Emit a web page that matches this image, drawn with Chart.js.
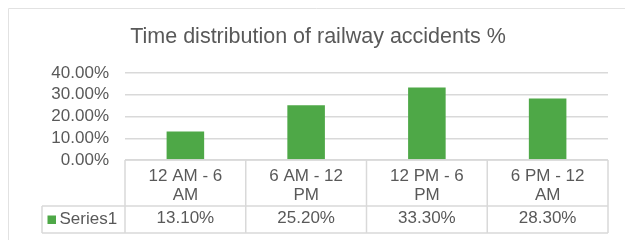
<!DOCTYPE html>
<html>
<head>
<meta charset="utf-8">
<script src="https://cdn.jsdelivr.net/npm/chart.js"></script>
<style>
  html, body { margin: 0; padding: 0; background: #fff; }
  #wrap { width: 625px; height: 240px; position: relative; }
</style>
</head>
<body>
<div id="wrap"><canvas id="chart"></canvas></div>
<script>
const categories = ['12 AM - 6 AM', '6 AM - 12 PM', '12 PM - 6 PM', '6 PM - 12 AM'];
const seriesName = 'Series1';
const seriesValues = [13.1, 25.2, 33.3, 28.3];
const yTicks = [0, 10, 20, 30, 40];

const textColor = '#595959';
const lineColor = '#d9d9d9';
const barColor = '#4ea847';
const fontFamily = '"Liberation Sans", Arial, sans-serif';

// Excel wraps each label before its last word
function wrapLabel(label) {
    const i = label.lastIndexOf(' ');
    return [label.slice(0, i), label.slice(i + 1)];
}

// Outer frame plus the data table under the plot
const dataTable = {
    id: 'dataTable',
    beforeDraw(chart) {
        const { ctx, width, height } = chart;
        ctx.save();
        ctx.strokeStyle = '#e2e2e2';
        ctx.lineWidth = 1;
        ctx.beginPath();
        ctx.moveTo(8.5, height);
        ctx.lineTo(8.5, 8.5);
        ctx.lineTo(width, 8.5);
        ctx.stroke();
        ctx.restore();
    },
    afterDraw(chart) {
        const { ctx, chartArea } = chart;
        const x = chart.scales.x;
        const colW = x.getPixelForValue(1) - x.getPixelForValue(0);
        const top = chartArea.bottom;
        const rowY = top + 46;
        const bottom = top + 73;
        const keyLeft = 42;
        const left = chartArea.left;
        const right = chartArea.right;

        ctx.save();
        ctx.strokeStyle = lineColor;
        ctx.lineWidth = 1.5;
        ctx.beginPath();
        ctx.moveTo(left, top); ctx.lineTo(right, top);
        ctx.moveTo(keyLeft, rowY); ctx.lineTo(right, rowY);
        ctx.moveTo(keyLeft, bottom); ctx.lineTo(right, bottom);
        ctx.moveTo(keyLeft, rowY); ctx.lineTo(keyLeft, bottom);
        categories.forEach((c, i) => {
            const edge = x.getPixelForValue(i) - colW / 2;
            ctx.moveTo(edge, top); ctx.lineTo(edge, bottom);
        });
        ctx.moveTo(right, top); ctx.lineTo(right, bottom);
        ctx.stroke();

        const midY = (rowY + bottom) / 2;
        ctx.fillStyle = barColor;
        ctx.fillRect(keyLeft + 5.5, midY - 4, 8.5, 8.5);
        ctx.font = '17px ' + fontFamily;
        ctx.fillStyle = textColor;
        ctx.textBaseline = 'middle';
        ctx.textAlign = 'left';
        ctx.fillText(seriesName, keyLeft + 17.5, midY);
        ctx.textAlign = 'center';
        seriesValues.forEach((v, i) => {
            ctx.fillText(v.toFixed(2) + '%', x.getPixelForValue(i), midY - 1);
        });
        ctx.restore();
    }
};

document.addEventListener('DOMContentLoaded', function () {
    const ctx = document.getElementById('chart').getContext('2d');
    new Chart(ctx, {
        type: 'bar',
        data: {
            labels: categories,
            datasets: [{
                label: seriesName,
                data: seriesValues,
                backgroundColor: barColor,
                categoryPercentage: 1,
                barPercentage: 0.311
            }]
        },
        options: {
            responsive: true,
            maintainAspectRatio: false,
            animation: false,
            layout: {
                padding: { top: 0, left: 28, right: 17, bottom: 0 }
            },
            scales: {
                x: {
                    grid: { display: false, drawTicks: false },
                    border: { display: false },
                    ticks: {
                        autoSkip: false,
                        maxRotation: 0,
                        padding: 7,
                        color: textColor,
                        font: { family: fontFamily, size: 17, lineHeight: 19 / 17 },
                        callback: function (value) {
                            return wrapLabel(categories[value]);
                        }
                    },
                    afterFit: function (scale) { scale.height = 80; }
                },
                y: {
                    min: 0,
                    max: 40,
                    grid: { color: lineColor, lineWidth: 1.5, drawTicks: false },
                    border: { display: false },
                    ticks: {
                        autoSkip: false,
                        padding: 16,
                        color: textColor,
                        font: { family: fontFamily, size: 17 },
                        callback: function (value) {
                            return value.toFixed(2) + '%';
                        }
                    },
                    afterBuildTicks: function (scale) {
                        scale.ticks = yTicks.map(v => ({ value: v }));
                    },
                    afterFit: function (scale) { scale.width = 97; }
                }
            },
            plugins: {
                legend: { display: false },
                tooltip: { enabled: false },
                title: {
                    display: true,
                    text: 'Time distribution of railway accidents %',
                    color: textColor,
                    font: { family: fontFamily, size: 21.5, weight: 'normal', lineHeight: 1.2 },
                    padding: { top: 24.6, bottom: 22.6 }
                }
            }
        },
        plugins: [dataTable]
    });
});
</script>
</body>
</html>
